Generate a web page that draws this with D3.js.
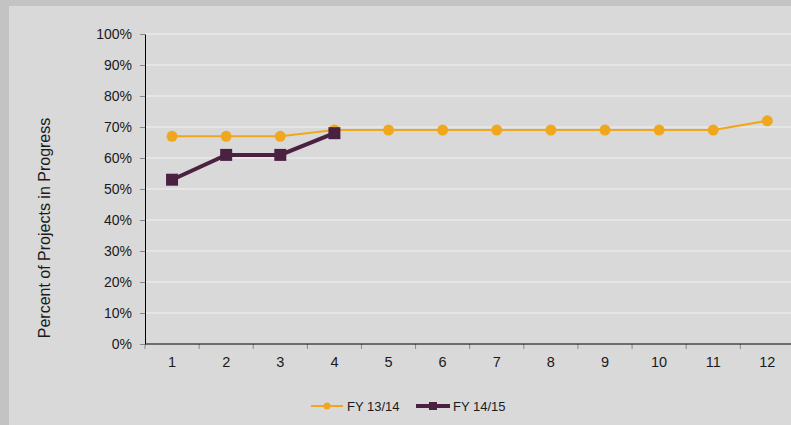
<!DOCTYPE html>
<html>
<head>
<meta charset="utf-8">
<script src="https://cdn.jsdelivr.net/npm/d3@7"></script>
<style>
  html, body { margin: 0; padding: 0; background: #c3c3c3; }
  svg { display: block; font-family: "Liberation Sans", Arial, Helvetica, sans-serif; }
</style>
</head>
<body>
<svg id="chart" width="791" height="425"></svg>
<script>
// Months of the fiscal year (1..12)
const months = [1, 2, 3, 4, 5, 6, 7, 8, 9, 10, 11, 12];
// Percent of projects in progress per fiscal year
const fy1314 = [67, 67, 67, 69, 69, 69, 69, 69, 69, 69, 69, 72];
const fy1415 = [53, 61, 61, 68];
const seriesNames = ["FY 13/14", "FY 14/15"];
const yTicks = [0, 10, 20, 30, 40, 50, 60, 70, 80, 90, 100];

const svg = d3.select("#chart");
const W = 791, H = 425;

// background and panel
svg.append("rect").attr("width", W).attr("height", H).attr("fill", "#c3c3c3");
svg.append("rect").attr("x", 9).attr("y", 6).attr("width", W - 9).attr("height", H - 6).attr("fill", "#d9d9d9");

const plot = { left: 145, right: 794.4, top: 34, bottom: 344 };

const x = d3.scaleBand().domain(months).range([plot.left, plot.right]).paddingInner(0).paddingOuter(0);
const y = d3.scaleLinear().domain([0, 100]).range([plot.bottom, plot.top]);
const cx = d => x(d) + x.bandwidth() / 2;

// horizontal gridlines
svg.append("g").selectAll("line").data(yTicks.filter(t => t > 0)).join("line")
  .attr("x1", plot.left).attr("x2", plot.right)
  .attr("y1", d => y(d)).attr("y2", d => y(d))
  .attr("stroke", "#e9e9e9").attr("stroke-width", 1.5);

// y axis
const yAxis = svg.append("g").attr("transform", `translate(${plot.left},0)`)
  .call(d3.axisLeft(y).tickValues(yTicks).tickFormat(d => d + "%").tickSizeInner(5).tickSizeOuter(0).tickPadding(8));
yAxis.select(".domain").attr("stroke", "#000").attr("stroke-width", 1);
yAxis.selectAll(".tick line").attr("stroke", "#888");
yAxis.selectAll(".tick text").attr("font-size", 14).attr("fill", "#1a1a1a").attr("font-family", "Liberation Sans, Arial, sans-serif");

// x axis: labels centred in bands, ticks on band boundaries
const xAxis = svg.append("g").attr("transform", `translate(0,${plot.bottom})`)
  .call(d3.axisBottom(x).tickSize(0).tickPadding(13));
xAxis.select(".domain").remove();
xAxis.selectAll(".tick text").attr("font-size", 14.5).attr("fill", "#1a1a1a").attr("font-family", "Liberation Sans, Arial, sans-serif");
const bounds = months.map(m => x(m)).concat([plot.right]);
svg.append("g").selectAll("line").data(bounds).join("line")
  .attr("x1", d => d).attr("x2", d => d)
  .attr("y1", plot.bottom).attr("y2", plot.bottom + 5)
  .attr("stroke", "#888");
svg.append("line").attr("x1", plot.left).attr("x2", plot.right)
  .attr("y1", plot.bottom).attr("y2", plot.bottom).attr("stroke", "#000");

// y axis title
svg.append("text")
  .attr("transform", "translate(50,228) rotate(-90)")
  .attr("text-anchor", "middle").attr("font-size", 16).attr("fill", "#1a1a1a")
  .text("Percent of Projects in Progress");

const orange = "#f1a71d", maroon = "#4b2142";
const line = d3.line().x((d, i) => cx(months[i])).y(d => y(d));

// FY 13/14
svg.append("path").datum(fy1314).attr("d", line).attr("fill", "none")
  .attr("stroke", orange).attr("stroke-width", 2);
svg.append("g").selectAll("circle").data(fy1314).join("circle")
  .attr("cx", (d, i) => cx(months[i])).attr("cy", d => y(d)).attr("r", 5.5)
  .attr("fill", orange);

// FY 14/15
svg.append("path").datum(fy1415).attr("d", line).attr("fill", "none")
  .attr("stroke", maroon).attr("stroke-width", 4);
const sq = 12;
svg.append("g").selectAll("rect").data(fy1415).join("rect")
  .attr("x", (d, i) => cx(months[i]) - sq / 2).attr("y", d => y(d) - sq / 2)
  .attr("width", sq).attr("height", sq).attr("fill", maroon);

// legend
const ly = 406;
const lg = svg.append("g");
lg.append("line").attr("x1", 311).attr("x2", 343).attr("y1", ly).attr("y2", ly).attr("stroke", orange).attr("stroke-width", 2);
lg.append("circle").attr("cx", 327).attr("cy", ly).attr("r", 3.5).attr("fill", orange);
lg.append("text").attr("x", 347).attr("y", ly + 4.5).attr("font-size", 13).attr("fill", "#1a1a1a").text(seriesNames[0]);
lg.append("line").attr("x1", 416).attr("x2", 450).attr("y1", ly).attr("y2", ly).attr("stroke", maroon).attr("stroke-width", 4);
lg.append("rect").attr("x", 429).attr("y", ly - 4).attr("width", 8).attr("height", 8).attr("fill", maroon);
lg.append("text").attr("x", 453).attr("y", ly + 4.5).attr("font-size", 13).attr("fill", "#1a1a1a").text(seriesNames[1]);
</script>
</body>
</html>
